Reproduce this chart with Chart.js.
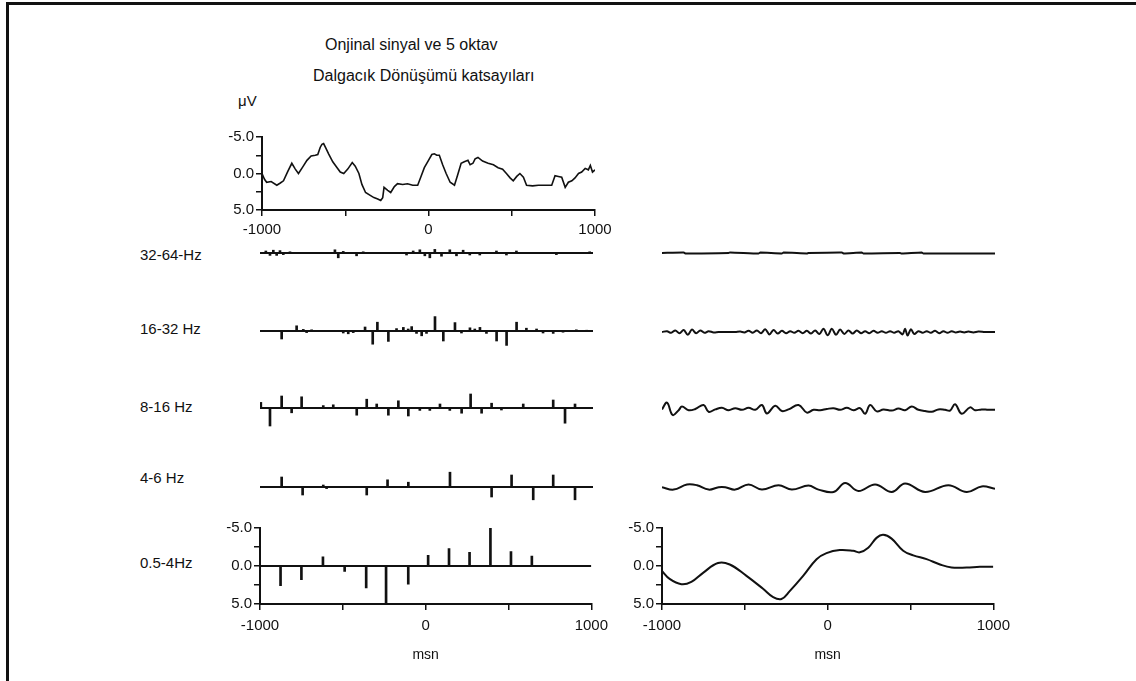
<!DOCTYPE html>
<html lang="tr">
<head>
  <meta charset="UTF-8">
  <title>Orijinal sinyal ve 5 oktav Dalgacık Dönüşümü katsayıları</title>
  <script src="https://cdn.jsdelivr.net/npm/chart.js"></script>
  <style>
    body {
      margin: 0;
      background: #fff;
      width: 1136px;
      height: 681px;
      overflow: hidden;
      position: relative;
      font-family: 'Liberation Sans', Arial, sans-serif;
      color: #111;
    }
    .frame {
      position: absolute;
      left: 6px;
      top: 2px;
      width: 1140px;
      height: 690px;
      border-top: 3px solid #111;
      border-left: 3px solid #111;
    }
    .box { position: absolute; }
    .txt {
      position: absolute;
      white-space: nowrap;
      font-size: 15px;
      line-height: 18px;
    }
  </style>
</head>
<body>
<div class="frame"></div>

<script>
  // axis labels
  const xLabelVals = [-1000, 0, 1000];
  const yLabelVals = [-5, 0, 5];
  const titleLines = ['Onjinal sinyal ve 5 oktav', 'Dalgacık Dönüşümü katsayıları'];
  const unitLabel = 'μV';
  const timeLabel = 'msn';
  const bandLabels = ['32-64-Hz', '16-32 Hz', '8-16 Hz', '4-6 Hz', '0.5-4Hz'];

  // zero line
  const baseMs = [-1000, 1000];
  const baseVal = [0, 0];

  // original signal (µV, negative up)
  const origMs = [-1000,-985,-972,-945,-911,-890,-871,-845,-821,-800,-781,-755,-730,-705,-680,-665,-650,-640,-630,-615,-600,-575,-549,-530,-509,-485,-458,-440,-418,-400,-378,-350,-328,-305,-287,-275,-267,-245,-227,-205,-186,-155,-126,-95,-65,-45,-25,0,20,35,50,65,85,106,130,156,175,196,215,237,250,267,280,297,325,358,390,418,445,468,490,509,530,549,570,589,625,660,700,740,760,780,800,821,840,861,880,901,920,941,960,972,985,1000];
  const origUv = [0.0,0.8,1.2,1.1,1.6,1.3,1.0,-0.3,-1.4,-0.6,0.0,-0.9,-1.8,-2.4,-2.5,-2.6,-3.6,-4.0,-4.1,-3.4,-2.7,-1.6,-0.8,-0.2,0.0,-0.6,-1.5,-1.0,0.0,1.5,2.6,3.0,3.3,3.5,3.7,3.3,1.9,2.3,2.6,1.8,1.4,1.5,1.4,1.6,1.6,0.4,-0.8,-1.8,-2.6,-2.7,-2.5,-2.5,-1.2,0.0,1.2,1.6,0.2,-1.4,-1.6,-1.8,-1.2,-1.4,-2.0,-2.2,-1.7,-1.4,-1.2,-0.8,-0.6,0.0,0.6,1.0,0.4,0.0,0.5,1.6,1.7,1.6,1.6,1.6,0.3,0.4,0.5,1.9,1.2,1.0,0.6,0.0,-0.2,-0.7,-0.5,-1.1,-0.2,-0.5];

  // wavelet coefficients (left column)
  const coef1Ms = [-965,-940,-920,-900,-880,-860,-820,-550,-530,-500,-420,-380,-120,-80,-40,-10,20,50,90,140,180,220,260,320,420,480,540,780,980];
  const coef1 = [-0.5,0.6,-0.7,0.6,-0.6,0.4,-0.3,-0.8,1.2,-0.4,0.7,-0.3,0.5,-0.5,-0.8,0.7,1.2,-0.9,0.8,-0.8,0.7,-0.7,0.5,0.5,-0.5,0.5,-0.5,0.4,-0.3];

  const coef2Ms = [-870,-780,-740,-720,-690,-500,-470,-440,-369,-323,-295,-229,-180,-139,-110,-89,-60,-29,0,51,101,171,210,261,290,321,360,421,481,541,600,661,700,761,820,900,962];
  const coef2 = [2.0,-1.3,-0.4,0.4,-0.3,0.5,0.7,0.4,-1.0,3.3,-2.2,2.6,-0.6,-0.9,-0.5,-1.1,0.6,1.2,0.6,-3.6,2.5,-2.1,0.5,-0.8,-0.5,-0.9,0.6,2.5,3.6,-2.2,-0.7,-0.5,0.5,0.6,0.3,-0.3,-0.2];

  const coef3Ms = [-995,-940,-870,-810,-750,-620,-560,-419,-359,-299,-229,-169,-109,-40,20,81,140,211,265,331,391,450,581,761,832,892];
  const coef3 = [-1.4,4.5,-3.0,1.2,-2.8,-0.6,-0.8,1.8,-2.2,-1.0,1.8,-1.8,2.0,0.6,0.6,-1.0,0.6,1.3,-3.5,1.3,-1.2,0.5,-1.0,-2.0,3.8,-1.0];

  const coef4Ms = [-870,-744,-620,-600,-359,-234,-109,141,391,511,641,761,892];
  const coef4 = [-2.5,2.0,-0.5,0.4,2.0,-1.8,-1.2,-3.7,2.5,-3.0,3.2,-3.0,3.2];

  const coef5Ms = [-876,-750,-620,-489,-359,-239,-105,15,141,265,391,515,641];
  const coef5 = [2.6,1.8,-1.2,0.7,2.9,5.0,2.4,-1.4,-2.3,-1.8,-5.0,-1.9,-1.3];

  // reconstructed bands (right column)
  const rec1Ms = [-1000,-870,-860,-600,-590,-420,-410,-280,-270,-130,-120,80,90,200,210,430,440,560,570,1000];
  const rec1 = [0,-0.15,0.1,0,-0.15,0.1,-0.1,0.1,-0.1,0.1,0,-0.15,0.1,-0.1,0.1,0,0.15,-0.1,0.1,0.1];

  const rec2Ms = [-1000,-970,-945,-920,-895,-870,-845,-820,-795,-770,-745,-720,-690,-660,-600,-560,-530,-505,-480,-455,-430,-405,-380,-355,-330,-305,-280,-255,-230,-205,-180,-155,-130,-105,-80,-55,-30,-5,20,45,70,95,120,145,170,195,220,245,270,295,320,345,370,395,420,445,460,475,495,515,540,565,590,615,640,665,690,715,740,765,790,815,840,870,900,940,1000];
  const rec2 = [0,-0.2,0.2,-0.4,0.3,-0.5,0.7,-0.6,0.3,-0.4,0.2,-0.2,0.1,0,0,0,-0.1,0.1,-0.3,0.2,-0.4,0.3,-0.7,0.6,-0.5,0.4,-0.3,0.3,-0.2,0.2,-0.3,0.3,-0.3,0.4,-0.4,0.5,-0.8,0.8,-0.8,0.7,-0.6,0.5,-0.4,0.4,-0.4,0.3,-0.2,0.3,-0.3,0.2,-0.2,0.2,-0.2,0.2,-0.2,0.6,-0.8,0.9,-0.7,0.5,-0.2,0.2,-0.2,0.2,-0.3,0.3,-0.2,0.2,-0.2,0.1,-0.1,0.1,-0.1,0.1,-0.1,0,0];

  const rec3Ms = [-1000,-970,-936,-900,-880,-840,-800,-750,-720,-680,-640,-600,-560,-520,-480,-440,-400,-370,-320,-280,-240,-180,-130,-90,-50,-10,30,70,110,150,190,220,250,290,330,380,420,460,500,540,580,620,660,700,730,760,800,850,880,920,960,1000];
  const rec3 = [0.1,-1.6,1.5,0.3,-0.6,0.3,0,-1.0,0.7,0.1,-0.3,0.3,-0.2,0.2,-0.3,0.2,-1.0,1.1,-0.8,0.5,0.1,-1.0,0.9,0.2,0.3,0,-0.2,0.2,-0.3,0.3,-0.2,1.2,-1.0,0.6,0.1,0.4,-0.1,0.3,-0.6,0.2,0.5,0.7,0.1,0.2,0.4,-1.2,1.2,-0.4,0.3,0.1,0.2,0.2];

  const rec4Ms = [-1000,-930,-850,-790,-720,-660,-620,-560,-480,-400,-300,-220,-120,-60,30,100,180,280,380,460,580,720,830,920,1000];
  const rec4 = [-0.2,0.4,-0.9,-0.7,0.4,-0.2,-0.2,0.4,-0.9,0.4,-0.7,0.4,-0.6,0.4,1.0,-1.25,0.75,-0.9,1.0,-1.1,1.0,-0.7,1.0,-0.4,0.2];

  const rec5Ms = [-1000,-954,-883,-823,-752,-662,-591,-490,-390,-329,-279,-229,-148,-67,-7,73,154,194,245,295,335,386,456,517,597,678,748,839,919,1000];
  const rec5 = [0.65,1.7,2.4,2.1,0.9,-0.4,-0.2,1.3,3.0,4.1,4.35,3.3,1.3,-0.9,-1.7,-2.1,-2.0,-1.8,-2.4,-3.7,-4.1,-3.6,-2.0,-1.4,-0.9,-0.2,0.2,0.2,0.1,0.1];

  const INK = '#111';
  const FONT = "'Liberation Sans', Arial, sans-serif";

  function zip(xs, ys) {
    return xs.map((x, i) => ({ x: x, y: ys[i] }));
  }

  function place(left, top, w, h) {
    const box = document.createElement('div');
    box.className = 'box';
    box.style.left = left + 'px';
    box.style.top = top + 'px';
    box.style.width = w + 'px';
    box.style.height = h + 'px';
    const cv = document.createElement('canvas');
    box.appendChild(cv);
    document.body.appendChild(box);
    return cv;
  }

  function text(str, left, top, size) {
    const d = document.createElement('div');
    d.className = 'txt';
    d.textContent = str;
    d.style.left = left + 'px';
    d.style.top = top + 'px';
    if (size) d.style.fontSize = size + 'px';
    document.body.appendChild(d);
  }

  const baseOptions = {
    responsive: true,
    maintainAspectRatio: false,
    animation: false,
    events: [],
    plugins: { legend: { display: false }, tooltip: { enabled: false } }
  };

  function lineSet(ms, vals, tension, width) {
    return {
      type: 'line',
      data: zip(ms, vals),
      borderColor: INK,
      borderWidth: width || 2,
      pointRadius: 0,
      tension: tension || 0,
      fill: false
    };
  }

  function barSet(ms, vals) {
    return {
      type: 'bar',
      data: zip(ms, vals),
      backgroundColor: INK,
      borderWidth: 0,
      barThickness: 2
    };
  }

  // small strip without axes, baseline in the middle
  function strip(left, baseY, datasets) {
    const cv = place(left, baseY - 30, 333, 60);
    new Chart(cv, {
      type: 'bar',
      data: { datasets: datasets },
      options: Object.assign({}, baseOptions, {
        layout: { padding: 0 },
        scales: {
          x: { type: 'linear', min: -1000, max: 1000, offset: false, display: false },
          y: { type: 'linear', min: -7.5, max: 7.5, reverse: true, display: false }
        }
      })
    });
  }

  // panel with µV axis and time axis
  function axisPanel(left, top, yWidth, xHeight, height, labelPad, showTitle, datasets) {
    const cv = place(left, top, yWidth + 333 + 22, height);
    const tickFont = { family: FONT, size: 15 };
    new Chart(cv, {
      type: 'bar',
      data: { datasets: datasets },
      options: Object.assign({}, baseOptions, {
        layout: { padding: { top: 10, right: 22, left: 0, bottom: 0 } },
        scales: {
          x: {
            type: 'linear', min: -1000, max: 1000, offset: false,
            afterFit: s => { s.height = xHeight; },
            ticks: {
              stepSize: 500, autoSkip: false, maxRotation: 0, color: INK, font: tickFont, padding: labelPad,
              callback: v => xLabelVals.includes(v) ? String(v) : ''
            },
            grid: { drawOnChartArea: false, drawTicks: true, tickLength: 6, color: INK, lineWidth: 1.5, offset: false },
            border: { display: true, color: INK, width: 2 },
            title: { display: showTitle, text: timeLabel, color: INK, font: { family: FONT, size: 14 }, padding: 0 }
          },
          y: {
            type: 'linear', min: -5, max: 5, reverse: true,
            afterFit: s => { s.width = yWidth; },
            ticks: {
              stepSize: 2.5, autoSkip: false, color: INK, font: tickFont, padding: 2,
              callback: v => yLabelVals.includes(v) ? v.toFixed(1) : ''
            },
            grid: { drawOnChartArea: false, drawTicks: true, tickLength: 6, color: INK, lineWidth: 1.5 },
            border: { display: true, color: INK, width: 2 }
          }
        }
      })
    });
  }

  // headings
  text(titleLines[0], 325, 36, 16);
  text(titleLines[1], 313, 67, 16);
  text(unitLabel, 238, 92, 15);

  // band labels
  const labelTops = [246, 320, 398, 469, 554];
  bandLabels.forEach((b, i) => text(b, 140, labelTops[i], 15));

  // original signal
  axisPanel(200, 126, 62, 40, 124, 5, false, [lineSet(origMs, origUv, 0, 1.6)]);

  // left column: coefficients
  strip(260, 253, [lineSet(baseMs, baseVal), barSet(coef1Ms, coef1)]);
  strip(260, 331, [lineSet(baseMs, baseVal), barSet(coef2Ms, coef2)]);
  strip(260, 408, [lineSet(baseMs, baseVal), barSet(coef3Ms, coef3)]);
  strip(260, 487, [lineSet(baseMs, baseVal), barSet(coef4Ms, coef4)]);
  axisPanel(200, 517, 60, 60, 147, 7, true, [lineSet(baseMs, baseVal), barSet(coef5Ms, coef5)]);

  // right column: reconstructed bands
  strip(662, 253, [lineSet(rec1Ms, rec1, 0.2)]);
  strip(662, 332, [lineSet(rec2Ms, rec2, 0.35)]);
  strip(662, 409, [lineSet(rec3Ms, rec3, 0.4)]);
  strip(662, 488, [lineSet(rec4Ms, rec4, 0.4)]);
  axisPanel(602, 517, 60, 60, 147, 7, true, [lineSet(rec5Ms, rec5, 0.4)]);
</script>
</body>
</html>
